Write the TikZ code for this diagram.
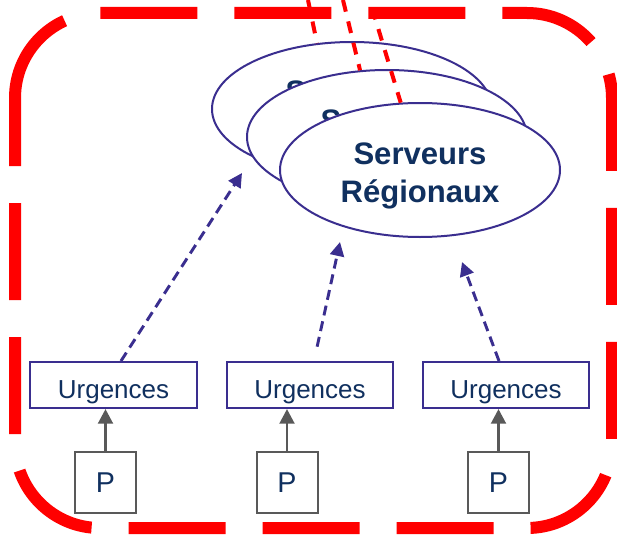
\documentclass[tikz,border=0pt]{standalone}
\usepackage{fontspec}
\setmainfont{Liberation Sans}
\usetikzlibrary{arrows.meta, positioning, shapes.geometric}
\definecolor{navy}{HTML}{10305F}
\definecolor{lineblue}{HTML}{3A2E8F}
\definecolor{grey}{HTML}{595959}
\definecolor{alert}{HTML}{FF0000}
\tikzset{
  urg/.style={draw=lineblue, fill=white, line width=1.5pt, minimum width=125pt,
              minimum height=34.5pt, inner sep=0pt, text height=20pt, text depth=0.5pt,
              font=\fontsize{19.5}{23}\selectfont, text=navy},
  pbox/.style={draw=grey, fill=white, line width=1.5pt, minimum size=45.75pt,
               inner sep=0pt, font=\fontsize{21.5}{25}\selectfont, text=navy},
  srv/.style={ellipse, draw=lineblue, fill=white, line width=1.5pt, minimum width=210pt,
              minimum height=100.5pt, inner sep=0pt, align=center, text height=50pt, text depth=2pt,
              font=\fontsize{23.3}{28.5}\selectfont\bfseries, text=navy},
  up/.style={-{Triangle[length=11pt, width=11pt]}, line width=2.2pt, draw=grey},
  fl/.style={-{Triangle[length=10.5pt, width=10.5pt]}, line width=2.2pt, draw=lineblue,
             dash pattern=on 7.5pt off 4.5pt},
  cut/.style={draw=alert, line width=3pt, dash pattern=on 9pt off 7.5pt},
  zone/.style={draw=alert, line width=9pt, rounded corners=63.75pt,
               dash pattern=on 72.75pt off 27.75pt},
}
\begin{document}
\begin{tikzpicture}[x=0.75pt, y=-0.75pt]
  \useasboundingbox (0,0) rectangle (617,535);
  % regional servers, stacked
  \node[srv] (srv1) at (352,109) {Serveurs\\Régionaux};
  \node[srv] (srv2) at (387,137) {Serveurs\\Régionaux};
  \node[srv] (srv3) at (420,170) {Serveurs\\Régionaux};
  \coordinate (c1) at (308,0); \coordinate (c2) at (343,0); \coordinate (c3) at (372,8);
  \draw[cut] (c1) -- (srv1.118); \draw[cut] (c2) -- (srv2.112); \draw[cut] (c3) -- (srv3.106);
  % emergency units
  \node[urg] (u1) at (113.5,385) {Urgences};
  \node[urg] (u2) at (310,385) {Urgences};
  \node[urg] (u3) at (506,385) {Urgences};
  \node[pbox] (p1) at (105.5,482.5) {P};
  \node[pbox] (p2) at (287,482.5) {P};
  \node[pbox] (p3) at (498.5,482.5) {P};
  \draw[up] (p1.north) -- (p1.north |- u1.south);
  \draw[up] (p2.north) -- (p2.north |- u2.south);
  \draw[up] (p3.north) -- (p3.north |- u3.south);
  \coordinate (t1) at (242,173); \coordinate (t2) at (340,242); \coordinate (t3) at (462,262);
  \draw[fl] ([xshift=5.6pt]u1.north) -- (t1);
  \draw[fl, shorten <=11pt] ([xshift=3pt]u2.north) -- (t2);
  \draw[fl] ([xshift=-5.25pt]u3.north) -- (t3);
  % region boundary
  \draw[zone] (15,98) -- (15,13) -- (612,13) -- (612,528) -- (15,528) -- (15,98);
\end{tikzpicture}
\end{document}
